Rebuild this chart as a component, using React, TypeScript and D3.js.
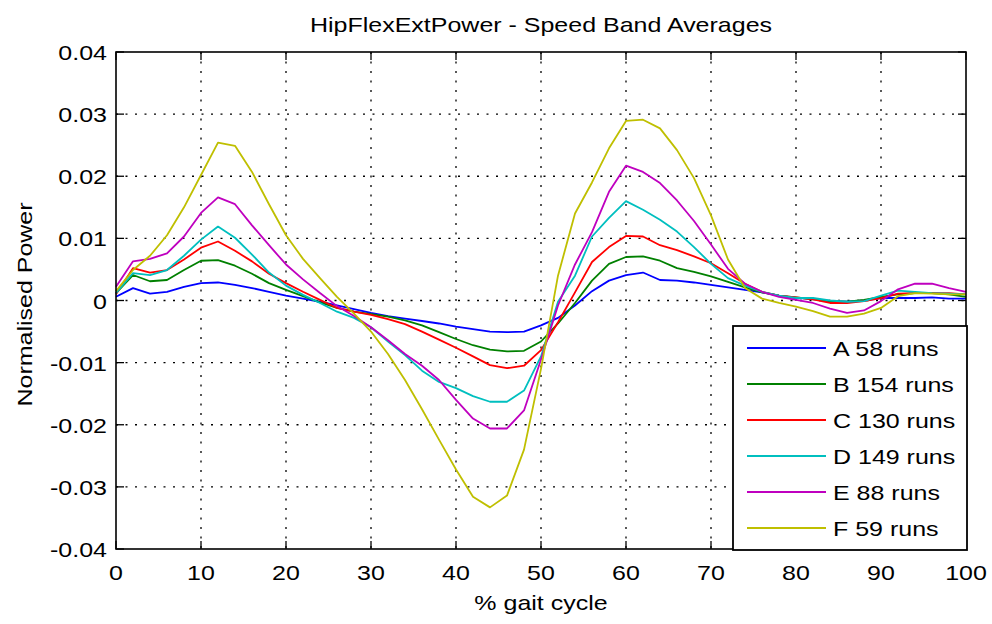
import React from "react";
import * as d3 from "d3";

const pct = d3.range(0, 101, 2);

const seriesNames = ["A 58 runs", "B 154 runs", "C 130 runs", "D 149 runs", "E 88 runs", "F 59 runs"];
const seriesColors = ["#0000FF", "#008000", "#FF0000", "#00BFBF", "#BF00BF", "#BFBF00"];

const seriesA = [0.0006, 0.0020, 0.0011, 0.0014, 0.0022, 0.0028, 0.0029, 0.0025, 0.0020, 0.0014, 0.0008, 0.0003, -0.0002, -0.0008, -0.0014, -0.0020, -0.0025, -0.0029, -0.0033, -0.0037, -0.0042, -0.0046, -0.0050, -0.0051, -0.0050, -0.0040, -0.0028, -0.0008, 0.0015, 0.0032, 0.0041, 0.0045, 0.0033, 0.0032, 0.0029, 0.0025, 0.0021, 0.0017, 0.0013, 0.0008, 0.0004, 0.0003, -0.0001, -0.0002, 0.0000, 0.0004, 0.0004, 0.0004, 0.0005, 0.0003, 0.0003];
const seriesB = [0.0012, 0.0041, 0.0031, 0.0033, 0.0049, 0.0064, 0.0065, 0.0056, 0.0043, 0.0028, 0.0017, 0.0007, -0.0003, -0.0012, -0.0018, -0.0022, -0.0026, -0.0032, -0.0040, -0.0051, -0.0062, -0.0072, -0.0079, -0.0082, -0.0081, -0.0066, -0.0037, -0.0004, 0.0032, 0.0059, 0.0070, 0.0071, 0.0064, 0.0052, 0.0046, 0.0039, 0.0030, 0.0021, 0.0013, 0.0008, 0.0005, 0.0002, -0.0001, -0.0002, 0.0001, 0.0006, 0.0010, 0.0012, 0.0012, 0.0010, 0.0006];
const seriesC = [0.0010, 0.0052, 0.0045, 0.0049, 0.0066, 0.0085, 0.0095, 0.0080, 0.0063, 0.0043, 0.0028, 0.0014, 0.0001, -0.0012, -0.0018, -0.0023, -0.0030, -0.0038, -0.0050, -0.0063, -0.0076, -0.0090, -0.0104, -0.0109, -0.0105, -0.0080, -0.0035, 0.0013, 0.0062, 0.0086, 0.0104, 0.0103, 0.0089, 0.0081, 0.0071, 0.0060, 0.0044, 0.0027, 0.0014, 0.0008, 0.0005, 0.0002, -0.0004, -0.0004, -0.0001, 0.0004, 0.0011, 0.0012, 0.0012, 0.0012, 0.0010];
const seriesD = [0.0012, 0.0044, 0.0041, 0.0049, 0.0072, 0.0098, 0.0119, 0.0101, 0.0074, 0.0045, 0.0024, 0.0009, -0.0004, -0.0018, -0.0028, -0.0043, -0.0066, -0.0088, -0.0113, -0.0131, -0.0141, -0.0154, -0.0163, -0.0163, -0.0145, -0.0090, -0.0002, 0.0040, 0.0103, 0.0133, 0.0160, 0.0146, 0.0130, 0.0111, 0.0086, 0.0059, 0.0036, 0.0024, 0.0014, 0.0008, 0.0004, 0.0004, 0.0000, -0.0002, -0.0001, 0.0008, 0.0016, 0.0014, 0.0012, 0.0011, 0.0010];
const seriesE = [0.0022, 0.0063, 0.0067, 0.0076, 0.0103, 0.0141, 0.0166, 0.0155, 0.0121, 0.0089, 0.0058, 0.0034, 0.0012, -0.0009, -0.0025, -0.0043, -0.0064, -0.0086, -0.0105, -0.0128, -0.0160, -0.0190, -0.0206, -0.0206, -0.0177, -0.0095, -0.0008, 0.0058, 0.0110, 0.0175, 0.0217, 0.0207, 0.0189, 0.0161, 0.0128, 0.0090, 0.0051, 0.0027, 0.0014, 0.0006, 0.0001, -0.0004, -0.0013, -0.0020, -0.0016, -0.0001, 0.0018, 0.0027, 0.0027, 0.0020, 0.0014];
const seriesF = [0.0015, 0.0049, 0.0072, 0.0105, 0.0150, 0.0202, 0.0254, 0.0249, 0.0207, 0.0155, 0.0105, 0.0067, 0.0036, 0.0006, -0.0021, -0.0050, -0.0086, -0.0128, -0.0175, -0.0224, -0.0272, -0.0316, -0.0333, -0.0314, -0.0240, -0.0110, 0.0040, 0.0140, 0.0190, 0.0245, 0.0289, 0.0291, 0.0277, 0.0242, 0.0197, 0.0137, 0.0066, 0.0020, 0.0003, -0.0004, -0.0010, -0.0017, -0.0026, -0.0026, -0.0021, -0.0012, 0.0007, 0.0012, 0.0011, 0.0010, 0.0010];

const allSeries = [seriesA, seriesB, seriesC, seriesD, seriesE, seriesF];

const xTicks = [0, 10, 20, 30, 40, 50, 60, 70, 80, 90, 100];
const yTicks = [-0.04, -0.03, -0.02, -0.01, 0, 0.01, 0.02, 0.03, 0.04];
const yTickLabels = ["-0.04", "-0.03", "-0.02", "-0.01", "0", "0.01", "0.02", "0.03", "0.04"];

const titleText = "HipFlexExtPower - Speed Band Averages";
const xLabelText = "% gait cycle";
const yLabelText = "Normalised Power";

const FONT = "'Liberation Sans', Arial, Helvetica, sans-serif";
const FS = 21;
const SX = 1.19;

const L = 116, R = 966, T = 52, B = 549;

function Txt({ x, y, anchor = "start", rotate = 0, children }: any) {
  return (
    <text
      transform={`translate(${x},${y})${rotate ? ` rotate(${rotate})` : ""} scale(${SX},1)`}
      textAnchor={anchor}
      fontFamily={FONT}
      fontSize={FS}
      fill="#000"
    >
      {children}
    </text>
  );
}

export default function App() {
  const x = d3.scaleLinear().domain([0, 100]).range([L, R]);
  const y = d3.scaleLinear().domain([-0.04, 0.04]).range([B, T]);
  const line = d3
    .line<number>()
    .x((_, i) => x(pct[i]))
    .y((d) => y(d));

  const tickLen = 8;
  const legX = 733, legY = 326, legW = 234, legH = 224;
  const rowY0 = 348, rowStep = 36;

  return (
    <svg
      width={992}
      height={624}
      style={{ position: "absolute", left: 0, top: 0, background: "#fff" }}
    >
      <rect x={0} y={0} width={992} height={624} fill="#fff" />
      <rect x={L} y={T} width={R - L} height={B - T} fill="#fff" />
      {/* grid */}
      <g stroke="#000" strokeWidth={1.3} strokeDasharray="2,7.5">
        {xTicks.slice(1, -1).map((t) => (
          <line key={"gx" + t} x1={x(t)} x2={x(t)} y1={T} y2={B} />
        ))}
        {yTicks.slice(1, -1).map((t) => (
          <line key={"gy" + t} x1={L} x2={R} y1={y(t)} y2={y(t)} />
        ))}
      </g>
      {/* ticks */}
      <g stroke="#000" strokeWidth={1.3}>
        {xTicks.map((t) => (
          <g key={"tx" + t}>
            <line x1={x(t)} x2={x(t)} y1={B} y2={B - tickLen} />
            <line x1={x(t)} x2={x(t)} y1={T} y2={T + tickLen} />
          </g>
        ))}
        {yTicks.map((t) => (
          <g key={"ty" + t}>
            <line x1={L} x2={L + tickLen} y1={y(t)} y2={y(t)} />
            <line x1={R} x2={R - tickLen} y1={y(t)} y2={y(t)} />
          </g>
        ))}
      </g>
      {/* data */}
      <g fill="none" strokeWidth={1.8} strokeLinejoin="round">
        {allSeries.map((s, i) => (
          <path key={"s" + i} d={line(s) || ""} stroke={seriesColors[i]} />
        ))}
      </g>
      {/* frame */}
      <rect x={L} y={T} width={R - L} height={B - T} fill="none" stroke="#000" strokeWidth={1.6} />
      {/* legend */}
      <rect x={legX} y={legY} width={legW} height={legH} fill="#fff" stroke="#000" strokeWidth={1.8} />
      {seriesNames.map((n, i) => (
        <g key={"lg" + i}>
          <line
            x1={747}
            x2={826}
            y1={rowY0 + i * rowStep}
            y2={rowY0 + i * rowStep}
            stroke={seriesColors[i]}
            strokeWidth={1.8}
          />
          <Txt x={833} y={rowY0 + i * rowStep + 8}>
            {n}
          </Txt>
        </g>
      ))}
      {/* tick labels */}
      {xTicks.map((t) => (
        <Txt key={"xl" + t} x={x(t)} y={580} anchor="middle">
          {String(t)}
        </Txt>
      ))}
      {yTicks.map((t, i) => (
        <Txt key={"yl" + t} x={107} y={y(t) + 8} anchor="end">
          {yTickLabels[i]}
        </Txt>
      ))}
      {/* labels */}
      <Txt x={(L + R) / 2} y={32} anchor="middle">
        {titleText}
      </Txt>
      <Txt x={(L + R) / 2} y={610} anchor="middle">
        {xLabelText}
      </Txt>
      <Txt x={32} y={(T + B) / 2 + 4} anchor="middle" rotate={-90}>
        {yLabelText}
      </Txt>
    </svg>
  );
}
